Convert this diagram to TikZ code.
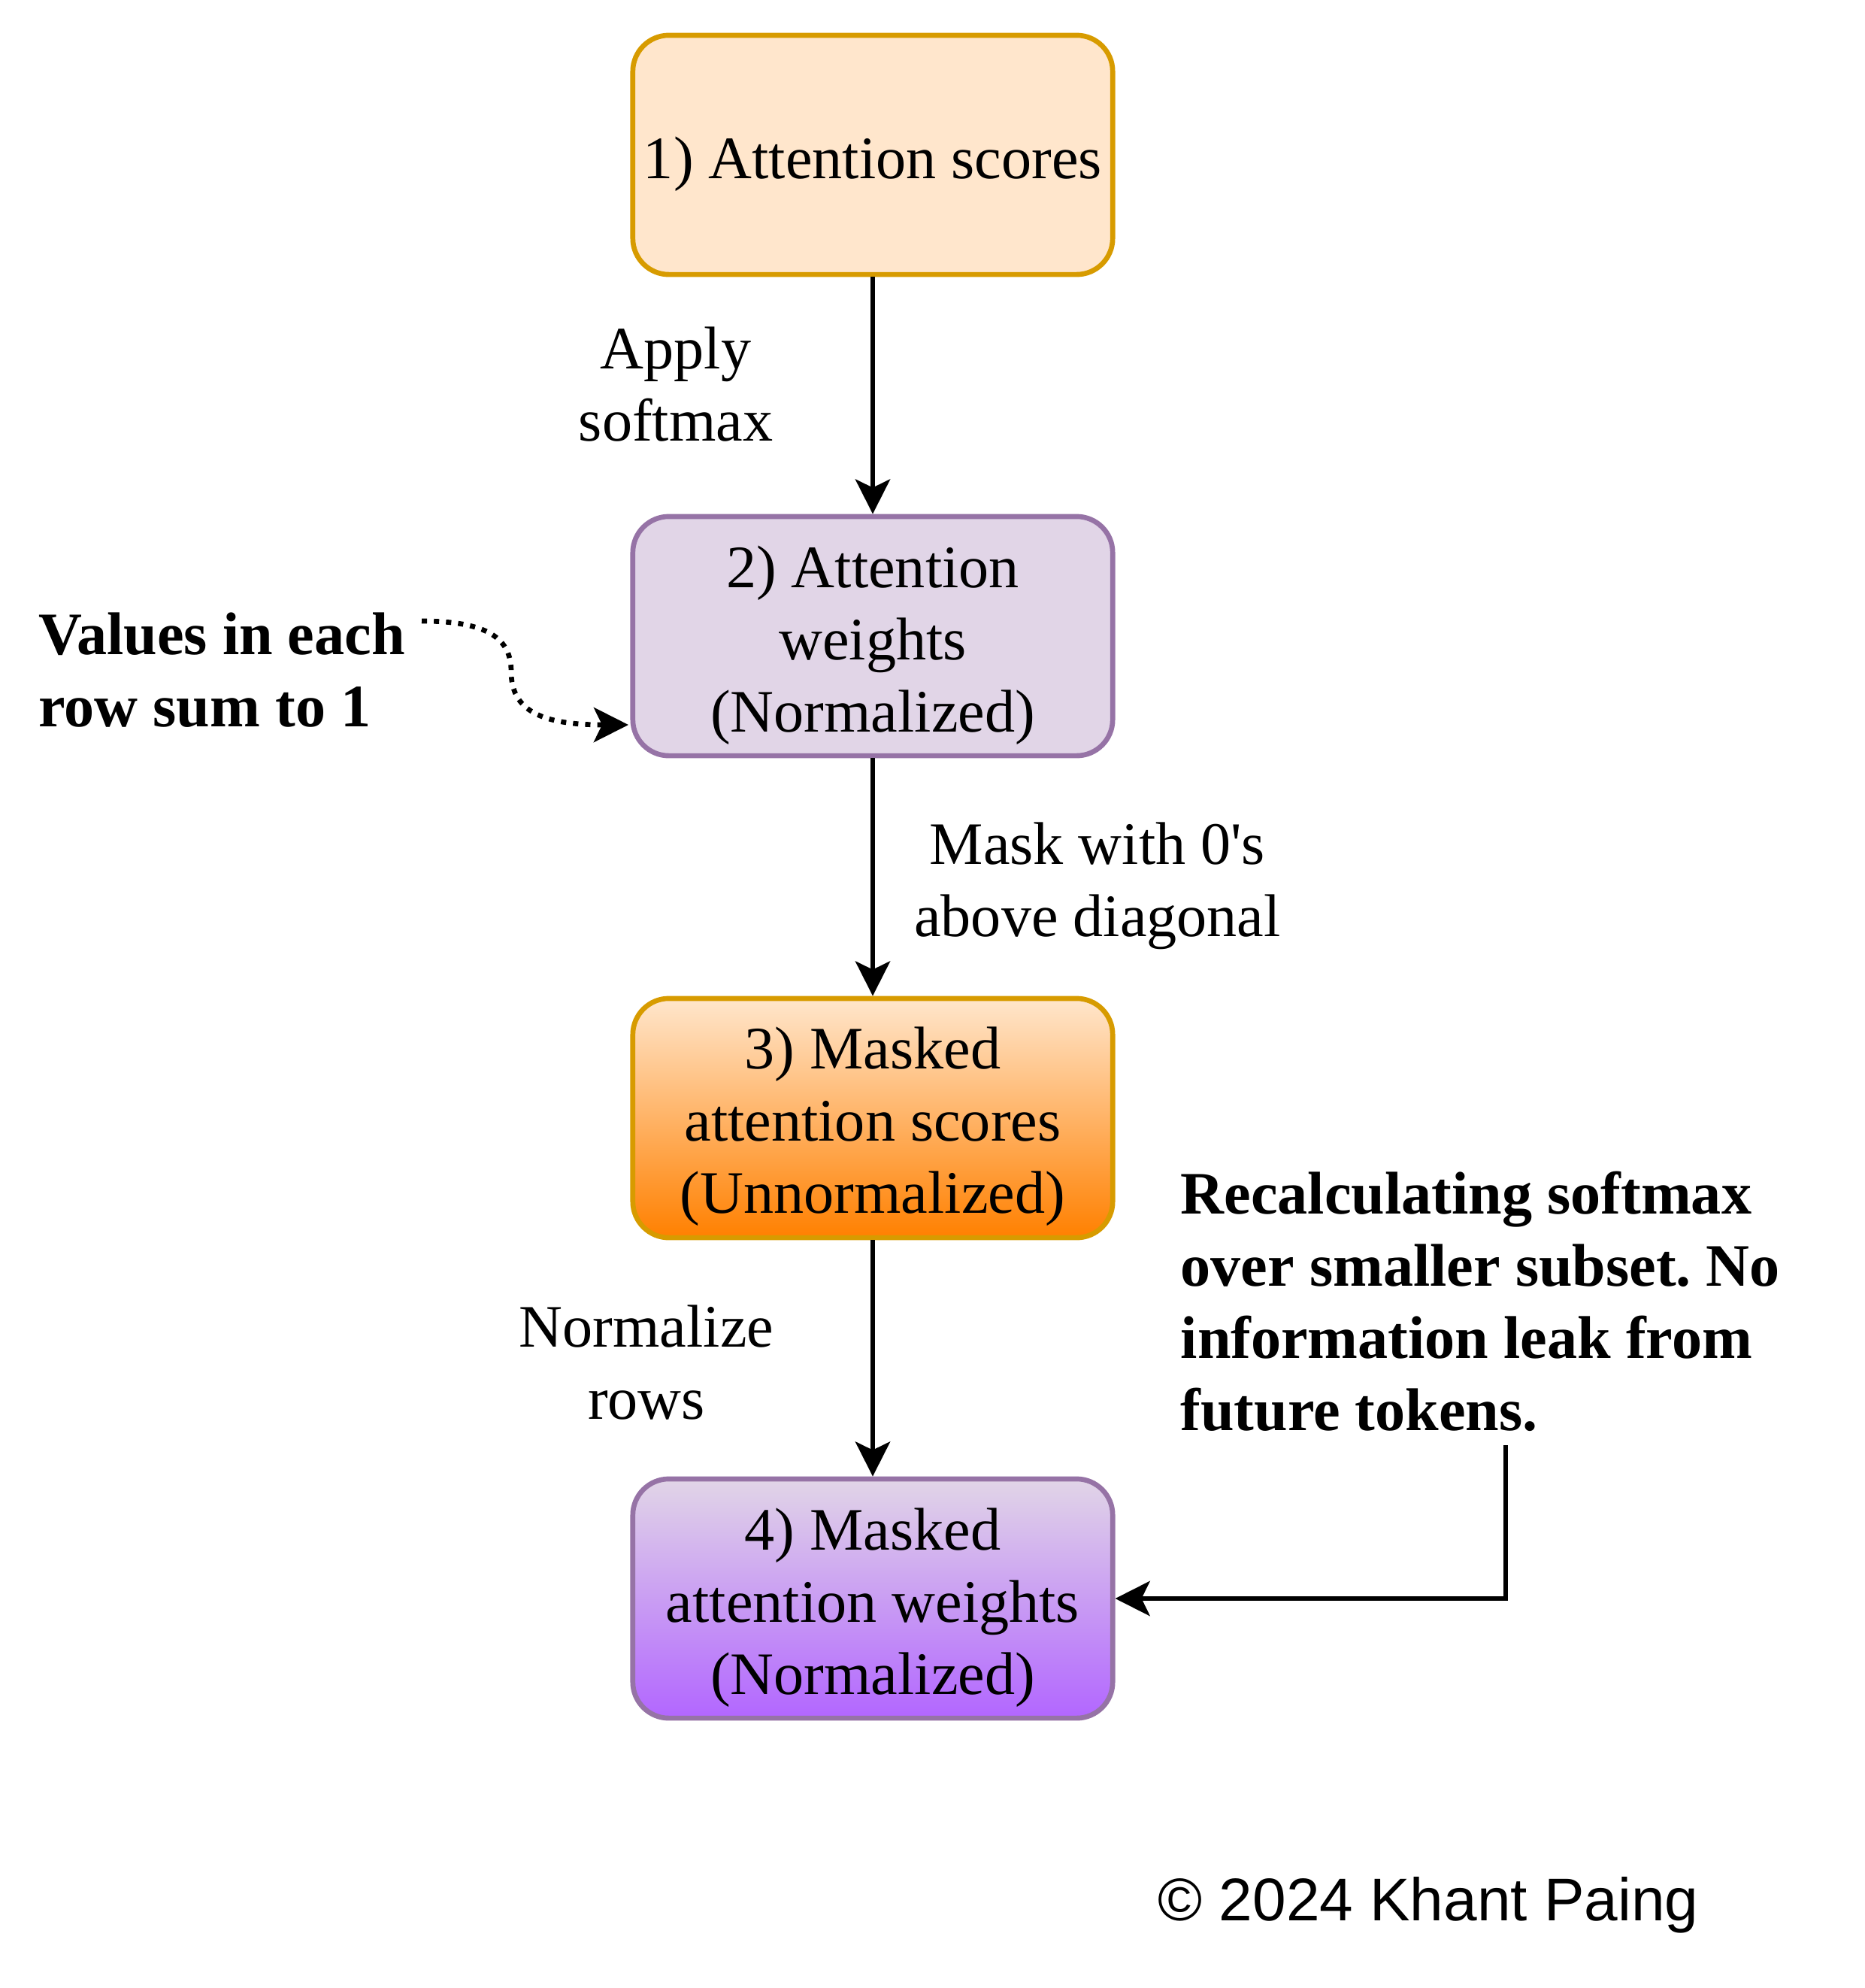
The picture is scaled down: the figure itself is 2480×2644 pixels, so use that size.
\documentclass[tikz,border=0pt]{standalone}
\usepackage{fontspec}
\setmainfont{Liberation Serif}
\newfontfamily\helv{Liberation Sans}
\usetikzlibrary{arrows.meta}
\definecolor{orfill}{HTML}{FFE6CC}
\definecolor{orline}{HTML}{D79B00}
\definecolor{ordeep}{HTML}{FF8000}
\definecolor{pufill}{HTML}{E1D5E7}
\definecolor{puline}{HTML}{9673A6}
\definecolor{pudeep}{HTML}{B266FF}
\frenchspacing
\begin{document}
\begin{tikzpicture}[x=0.01cm,y=-0.01cm,
  box/.style={draw, line width=1.9pt, rounded corners=0.48cm,
    minimum width=6.38cm, minimum height=3.18cm, inner sep=0pt},
  boxtxt/.style={align=center, inner sep=0pt, font=\fontsize{22.8}{27.3}\selectfont},
  lab/.style={align=center, inner sep=0pt, font=\fontsize{22.8}{27.3}\selectfont},
  blab/.style={align=left, inner sep=0pt, font=\fontsize{22.8}{27.3}\selectfont\bfseries\frenchspacing},
  arr/.style={-{Stealth[length=0.46cm,width=0.46cm,inset=0.11cm]}, line width=1.9pt}
]
\useasboundingbox (0,0) rectangle (2480,2644);

\node[box, draw=orline, fill=orfill] (b1) at (1161,206) {};
\node[box, draw=puline, fill=pufill] (b2) at (1161,846) {};
\node[box, draw=orline, top color=orfill, bottom color=ordeep] (b3) at (1161,1487) {};
\node[box, draw=puline, top color=pufill, bottom color=pudeep] (b4) at (1161,2126) {};

\node[boxtxt] (t1) at ([yshift=-0.12cm]b1.center) {1) Attention scores};
\node[boxtxt] (t2) at ([yshift=-0.12cm]b2.center) {2) Attention\\weights\\(Normalized)};
\node[boxtxt] (t3) at ([yshift=-0.11cm]b3.center) {3) Masked\\attention scores\\(Unnormalized)};
\node[boxtxt] (t4) at ([yshift=-0.12cm]b4.center) {4) Masked\\attention weights\\(Normalized)};

\node[lab] (l1) at (899,511) {Apply\\softmax};
\node[lab] (l2) at (1460,1178) {Mask with 0\textquotesingle s\\above diagonal};
\node[lab] (l3) at (860,1812) {Normalize\\rows};

\node[blab, anchor=west] (vals) at (51,891) {Values in each\\row sum to 1};
\node[blab, anchor=west] (recalc) at (1570,1731) {Recalculating softmax\\over smaller subset. No\\information leak from\\future tokens.};

\node[inner sep=0pt, font=\helv\fontsize{22.8}{27.3}\selectfont] (copy) at (1900,2534) {© 2024 Khant Paing};

\draw[arr] (b1) -- (b2);
\draw[arr] (b2) -- (b3);
\draw[arr] (b3) -- (b4);

\coordinate (dstart) at (561,826);
\coordinate (dend) at (836,964);
\draw[arr, dash pattern=on 2pt off 2.6pt] (dstart) .. controls (650,826) and (680,850) .. (680,893) .. controls (680,945) and (720,964) .. (dend);

\coordinate (rstart) at (2003,1922);
\draw[arr] (rstart) |- (b4.east);
\end{tikzpicture}
\end{document}
